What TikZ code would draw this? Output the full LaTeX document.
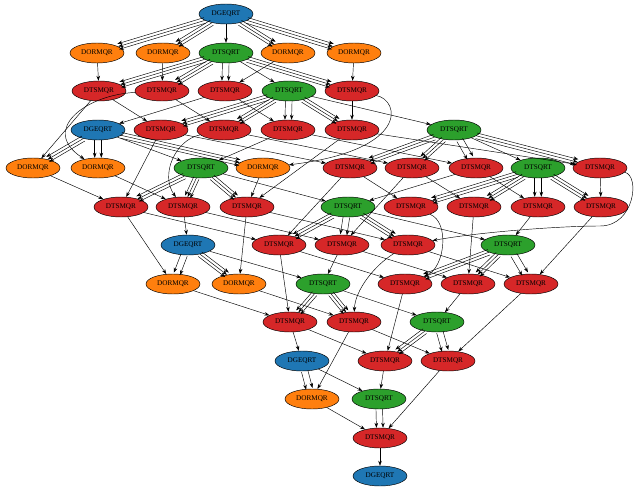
\documentclass[tikz,border=0pt]{standalone}
\usepackage{fontspec}
\setmainfont{Liberation Serif}
\usetikzlibrary{calc, arrows.meta}
\usetikzlibrary{shapes}

\definecolor{geqrtblue}{HTML}{1F77B4}
\definecolor{ormqrorange}{HTML}{FF7F0E}
\definecolor{tsqrtgreen}{HTML}{2CA02C}
\definecolor{tsmqrred}{HTML}{D62728}

% parallel arrows between two tasks
\newcommand{\multidep}[3]{%
  \foreach \off in {#1}{%
    \draw[->,transform canvas={shift={($(0,0)!\off!90:($(#3)-(#2)$)$)}}] (#2) -- (#3);}}
\newcommand{\tridep}[2]{\multidep{-2.9pt,0pt,2.9pt}{#1}{#2}}
\newcommand{\duodep}[2]{\multidep{-3.3pt,3.3pt}{#1}{#2}}

\begin{document}
\begin{tikzpicture}[x=1pt,y=1pt,>={Stealth[length=5pt,width=3.6pt]},line width=0.45pt,
    every node/.style={shape=ellipse,draw,minimum width=54pt,minimum height=20pt,inner sep=1pt,font=\fontsize{7.2}{8}\selectfont},
    geqrt/.style={fill=geqrtblue},ormqr/.style={fill=ormqrorange},
    tsqrt/.style={fill=tsqrtgreen},tsmqr/.style={fill=tsmqrred}]
    \useasboundingbox (0,0) rectangle (634,-489);
    % create the nodes
    \node[geqrt] (ge1) at (226,-14) {DGEQRT}; %step 1
    \node[ormqr] (or14) at (97,-53) {DORMQR};
    \node[ormqr] (or13) at (163,-53) {DORMQR};
    \node[tsqrt] (ts12) at (226,-53) {DTSQRT};
    \node[ormqr] (or12) at (288,-53) {DORMQR};
    \node[ormqr] (or15) at (354,-53) {DORMQR};
    \node[tsmqr] (tm124) at (99,-91) {DTSMQR};
    \node[tsmqr] (tm123) at (162,-91) {DTSMQR};
    \node[tsmqr] (tm122) at (225,-91) {DTSMQR};
    \node[tsqrt] (ts13) at (289,-91) {DTSQRT};
    \node[tsmqr] (tm125) at (352,-91) {DTSMQR};
    \node[geqrt] (ge2) at (98,-130) {DGEQRT}; %step 2
    \node[tsmqr] (tm134) at (161,-130) {DTSMQR};
    \node[tsmqr] (tm133) at (224,-130) {DTSMQR};
    \node[tsmqr] (tm132) at (288,-130) {DTSMQR};
    \node[tsmqr] (tm135) at (352,-130) {DTSMQR};
    \node[tsqrt] (ts14) at (454,-130) {DTSQRT};
    \node[ormqr] (or24) at (33,-168) {DORMQR};
    \node[ormqr] (or23) at (98,-168) {DORMQR};
    \node[tsqrt] (ts23) at (201,-168) {DTSQRT};
    \node[ormqr] (or25) at (263,-168) {DORMQR};
    \node[tsmqr] (tm144) at (350,-168) {DTSMQR};
    \node[tsmqr] (tm143) at (412,-168) {DTSMQR};
    \node[tsmqr] (tm142) at (476,-168) {DTSMQR};
    \node[tsqrt] (ts15) at (538,-168) {DTSQRT};
    \node[tsmqr] (tm145) at (600,-168) {DTSMQR};
    \node[tsmqr] (tm234) at (121,-207) {DTSMQR};
    \node[tsmqr] (tm233) at (183,-207) {DTSMQR};
    \node[tsmqr] (tm235) at (247,-207) {DTSMQR};
    \node[tsqrt] (ts24) at (348,-207) {DTSQRT};
    \node[tsmqr] (tm154) at (411,-207) {DTSMQR};
    \node[tsmqr] (tm153) at (474,-207) {DTSMQR};
    \node[tsmqr] (tm152) at (538,-207) {DTSMQR};
    \node[tsmqr] (tm155) at (601,-207) {DTSMQR};
    \node[geqrt] (ge3) at (188,-245) {DGEQRT}; %step 3
    \node[tsmqr] (tm244) at (279,-245) {DTSMQR};
    \node[tsmqr] (tm243) at (342,-245) {DTSMQR};
    \node[tsmqr] (tm245) at (408,-245) {DTSMQR};
    \node[tsqrt] (ts25) at (508,-245) {DTSQRT};
    \node[ormqr] (or34) at (173,-284) {DORMQR};
    \node[ormqr] (or35) at (239,-284) {DORMQR};
    \node[tsqrt] (ts34) at (323,-284) {DTSQRT};
    \node[tsmqr] (tm254) at (405,-284) {DTSMQR};
    \node[tsmqr] (tm253) at (468,-284) {DTSMQR};
    \node[tsmqr] (tm255) at (531,-284) {DTSMQR};
    \node[tsmqr] (tm344) at (290,-322) {DTSMQR};
    \node[tsmqr] (tm345) at (354,-322) {DTSMQR};
    \node[tsqrt] (ts35) at (437,-322) {DTSQRT};
    \node[geqrt] (ge4) at (302,-361) {DGEQRT}; %step 4
    \node[tsmqr] (tm354) at (385,-361) {DTSMQR};
    \node[tsmqr] (tm355) at (448,-361) {DTSMQR};
    \node[ormqr] (or45) at (312,-399) {DORMQR};
    \node[tsqrt] (ts45) at (379,-399) {DTSQRT};
    \node[tsmqr] (tm455) at (380,-438) {DTSMQR};
    \node[geqrt] (ge5) at (380,-476) {DGEQRT}; %step 5
    \coordinate (loop1) at (600,-226);

    % step 1
    \tridep{ge1}{or14} \tridep{ge1}{or13} \tridep{ge1}{or12} \tridep{ge1}{or15}
    \draw[->] (ge1) -- (ts12);
    \draw[->] (ts12) -- (ts13);
    \draw[->] (ts13) -- (ts14);
    \draw[->] (ts14) -- (ts15);
    \tridep{ts12}{tm124} \tridep{ts12}{tm123} \duodep{ts12}{tm122} \tridep{ts12}{tm125}
    \tridep{ts13}{tm134} \tridep{ts13}{tm133} \duodep{ts13}{tm132} \tridep{ts13}{tm135}
    \tridep{ts14}{tm144} \tridep{ts14}{tm143} \duodep{ts14}{tm142} \tridep{ts14}{tm145}
    \tridep{ts15}{tm154} \tridep{ts15}{tm153} \duodep{ts15}{tm152} \tridep{ts15}{tm155}
    \draw[->] (or14) -- (tm124);
    \draw[->] (or13) -- (tm123);
    \draw[->] (or12) -- (tm122);
    \draw[->] (or15) -- (tm125);
    \draw[->] (tm124) -- (tm134);
    \draw[->] (tm123) -- (tm133);
    \draw[->] (tm122) -- (tm132);
    \draw[->] (tm125) -- (tm135);
    \draw[->] (tm134) -- (tm144);
    \draw[->] (tm133) -- (tm143);
    \draw[->] (tm132) -- (tm142);
    \draw[->] (tm135) -- (tm145);
    \draw[->] (tm144) -- (tm154);
    \draw[->] (tm143) -- (tm153);
    \draw[->] (tm142) -- (tm152);
    \draw[->] (tm145) -- (tm155);

    % step 2
    \draw[->] (tm122) -- (ge2);
    \tridep{ge2}{or24} \duodep{ge2}{or23} \tridep{ge2}{or25}
    \draw[->] (tm124) -- (or24);
    \draw[->] (tm123) .. controls (85,-95) and (40,-130) .. (or23);
    \draw[->] (tm125) .. controls (400,-100) and (410,-150) .. (or25);
    \draw[->] (ge2) -- (ts23);
    \draw[->] (tm132) -- (ts23);
    \draw[->] (ts23) -- (ts24);
    \draw[->] (tm142) -- (ts24);
    \draw[->] (ts24) -- (ts25);
    \draw[->] (tm152) -- (ts25);
    \tridep{ts23}{tm234} \tridep{ts23}{tm233} \tridep{ts23}{tm235}
    \tridep{ts24}{tm244} \duodep{ts24}{tm243} \tridep{ts24}{tm245}
    \tridep{ts25}{tm254} \tridep{ts25}{tm253} \duodep{ts25}{tm255}
    \draw[->] (or24) -- (tm234);
    \draw[->] (or23) -- (tm233);
    \draw[->] (or25) -- (tm235);
    \draw[->] (tm134) -- (tm234);
    \draw[->] (tm133) .. controls (175,-140) and (160,-175) .. (tm233);
    \draw[->] (tm135) -- (tm235);
    \draw[->] (tm234) -- (tm244);
    \draw[->] (tm233) -- (tm243);
    \draw[->] (tm235) -- (tm245);
    \draw[->] (tm144) -- (tm244);
    \draw[->] (tm143) -- (tm243);
    \draw[->] (tm145) .. controls (640,-175) and (635,-226) .. (loop1)
                      .. controls (560,-226) and (480,-232) .. (tm245);
    \draw[->] (tm244) -- (tm254);
    \draw[->] (tm243) -- (tm253);
    \draw[->] (tm245) -- (tm255);
    \draw[->] (tm154) .. controls (450,-222) and (445,-268) .. (tm254);
    \draw[->] (tm153) -- (tm253);
    \draw[->] (tm155) -- (tm255);

    % step 3
    \draw[->] (tm233) -- (ge3);
    \duodep{ge3}{or34} \tridep{ge3}{or35}
    \draw[->] (tm234) -- (or34);
    \draw[->] (tm235) -- (or35);
    \draw[->] (ge3) -- (ts34);
    \draw[->] (tm243) -- (ts34);
    \draw[->] (ts34) -- (ts35);
    \draw[->] (tm253) -- (ts35);
    \tridep{ts34}{tm344} \tridep{ts34}{tm345}
    \tridep{ts35}{tm354} \duodep{ts35}{tm355}
    \draw[->] (or34) -- (tm344);
    \draw[->] (or35) -- (tm345);
    \draw[->] (tm244) -- (tm344);
    \draw[->] (tm245) .. controls (375,-265) and (355,-290) .. (tm345);
    \draw[->] (tm344) -- (tm354);
    \draw[->] (tm345) -- (tm355);
    \draw[->] (tm254) -- (tm354);
    \draw[->] (tm255) -- (tm355);

    % step 4
    \draw[->] (tm344) -- (ge4);
    \duodep{ge4}{or45}
    \draw[->] (tm345) -- (or45);
    \draw[->] (ge4) -- (ts45);
    \draw[->] (tm354) -- (ts45);
    \duodep{ts45}{tm455}
    \draw[->] (or45) -- (tm455);
    \draw[->] (tm355) -- (tm455);
    \draw[->] (tm455) -- (ge5);
\end{tikzpicture}
\end{document}
